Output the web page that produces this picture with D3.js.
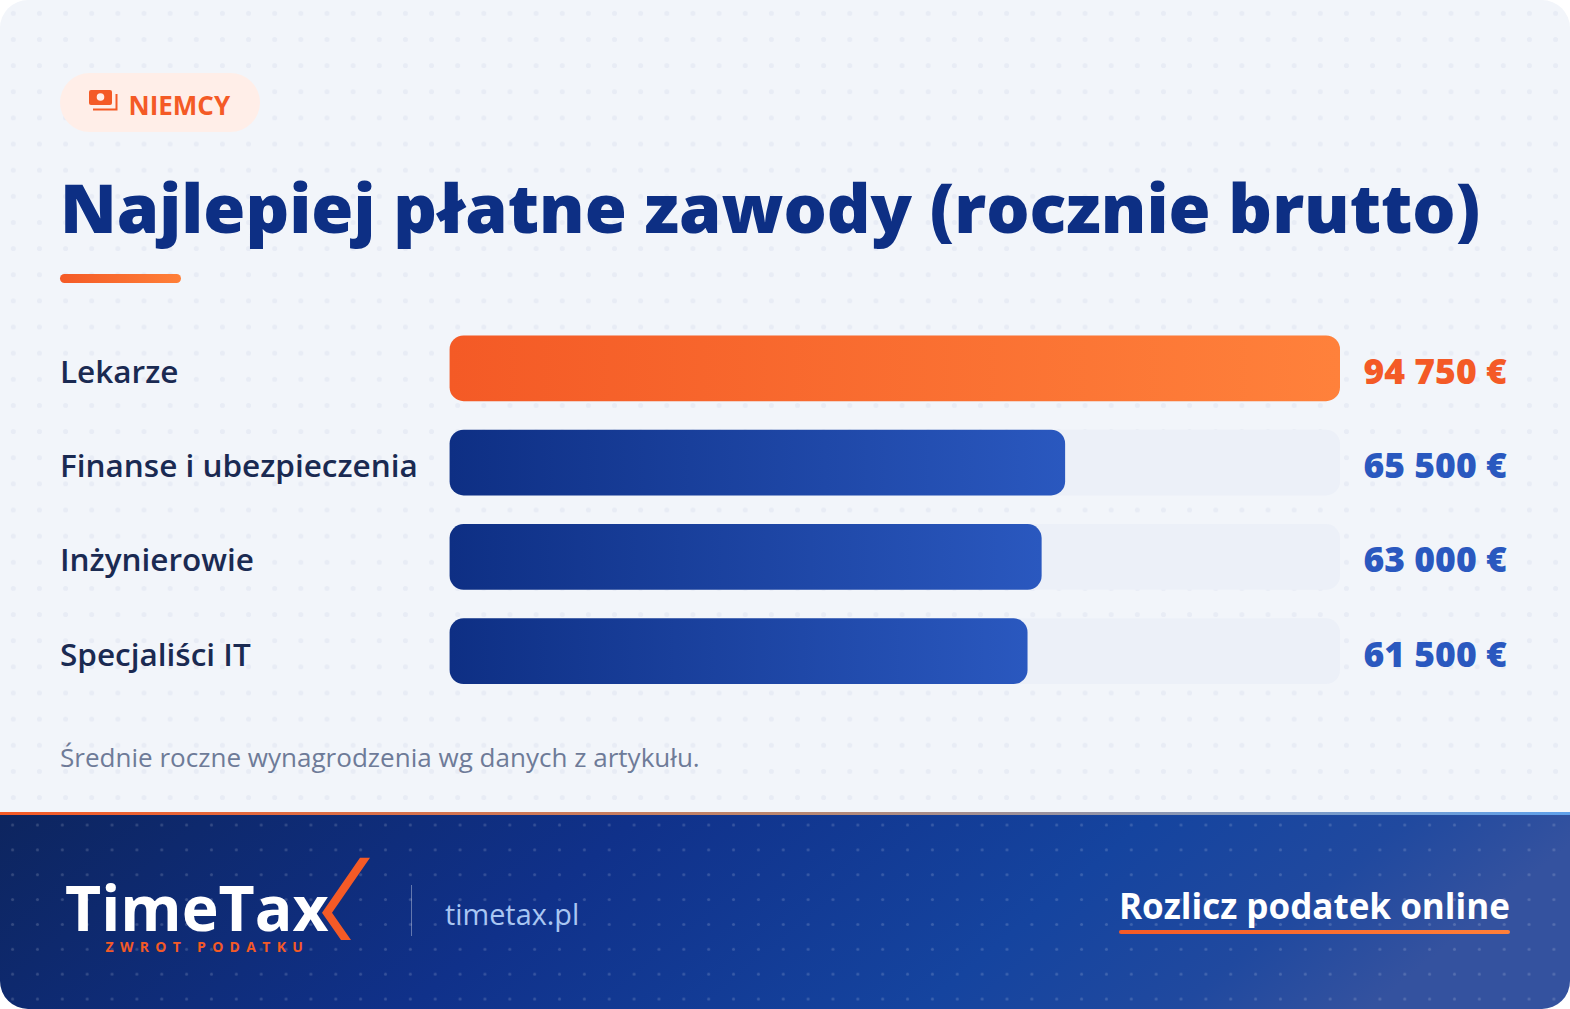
<!DOCTYPE html>
<html lang="pl">
<head>
<meta charset="utf-8">
<title>Najlepiej płatne zawody</title>
<script src="https://cdn.jsdelivr.net/npm/d3@7"></script>
<style>
  html, body { margin: 0; padding: 0; background: #fff; }
  svg { display: block; font-family: "Open Sans", sans-serif; }
</style>
</head>
<body>
<svg id="chart" width="1570" height="1009" viewBox="0 0 1570 1009"></svg>
<script>
const categories = ["Lekarze", "Finanse i ubezpieczenia", "Inżynierowie", "Specjaliści IT"];
const values = [94750, 65500, 63000, 61500];
const highlighted = ["Lekarze"];

const badgeText = "NIEMCY";
const titleText = "Najlepiej płatne zawody (rocznie brutto)";
const noteText = "Średnie roczne wynagrodzenia wg danych z artykułu.";
const siteText = "timetax.pl";
const ctaText = "Rozlicz podatek online";

const svg = d3.select("#chart");
const defs = svg.append("defs");

function linear(id, stops, x2 = "100%", y2 = "0%") {
  const g = defs.append("linearGradient").attr("id", id)
    .attr("x1", "0%").attr("y1", "0%").attr("x2", x2).attr("y2", y2);
  stops.forEach(s => g.append("stop").attr("offset", s[0]).attr("stop-color", s[1]));
}

function dots(id, step, x, y, r, fill) {
  const p = defs.append("pattern").attr("id", id)
    .attr("patternUnits", "userSpaceOnUse")
    .attr("x", x - step / 2).attr("y", y - step / 2)
    .attr("width", step).attr("height", step);
  p.append("circle").attr("cx", step / 2).attr("cy", step / 2).attr("r", r).attr("fill", fill);
}

linear("orangeBar", [[0, "#f45a26"], [1, "#ff813b"]]);
linear("blueBar", [[0, "#0e2f84"], [1, "#2a58bf"]]);
linear("accent", [[0, "#f45a26"], [1, "#ff7f38"]]);
linear("stripe", [[0, "#f45a26"], [0.5, "#b9866f"], [0.75, "#8a97b5"], [1, "#5fa0ea"]]);
linear("footerBg", [[0, "#0d255f"], [0.4, "#10318a"], [0.72, "#15449f"], [0.88, "#20499f"], [1, "#34529f"]], "100%", "15%");
dots("paperDots", 26.14, 13.3, 13.3, 2.5, "#e8ecf5");
dots("footerDots", 24.86, 12.6, 825, 1.5, "rgba(255,255,255,0.16)");

// card: rounded on all four corners, footer clipped to it
defs.append("clipPath").attr("id", "card").append("rect")
  .attr("width", 1570).attr("height", 1009).attr("rx", 28);

const card = svg.append("g").attr("clip-path", "url(#card)");
card.append("rect").attr("width", 1570).attr("height", 1009).attr("fill", "#f2f5fa");
card.append("rect").attr("width", 1570).attr("height", 812).attr("fill", "url(#paperDots)");

// badge
const badge = card.append("g");
badge.append("rect").attr("x", 60).attr("y", 73).attr("width", 200).attr("height", 59)
  .attr("rx", 29.5).attr("fill", "#ffeee8");
badge.append("rect").attr("x", 89).attr("y", 90).attr("width", 23).attr("height", 15)
  .attr("rx", 2).attr("fill", "#f45a26");
badge.append("circle").attr("cx", 100.5).attr("cy", 97).attr("r", 3.8).attr("fill", "#ffeee8");
badge.append("path").attr("d", "M93,109.5H116.5V94").attr("fill", "none")
  .attr("stroke", "#f45a26").attr("stroke-width", 2);
badge.append("text").attr("x", 128.5).attr("y", 114.5).attr("font-size", 26)
  .attr("font-weight", 700).attr("fill", "#f45a26").text(badgeText);

// title
card.append("text").attr("x", 60).attr("y", 232.5).attr("font-size", 68.1)
  .attr("font-weight", 800).attr("fill", "#0d2f84").text(titleText);
card.append("rect").attr("x", 60).attr("y", 274).attr("width", 121).attr("height", 9)
  .attr("rx", 4.5).attr("fill", "url(#accent)");

// bars
const x = d3.scaleLinear().domain([0, d3.max(values)]).range([449.6, 1340]);
const y = d3.scaleBand().domain(categories).range([335.5, 684]).paddingInner(0.303);
const fmt = d3.formatLocale({ decimal: ",", thousands: " ", grouping: [3], currency: ["", " €"] }).format("$,");
const rows = categories.map((c, i) => ({ category: c, value: values[i], hot: highlighted.includes(c) }));

const row = card.append("g").selectAll("g").data(rows).enter().append("g");

row.append("rect")
  .attr("x", x(0)).attr("y", d => y(d.category))
  .attr("width", x.range()[1] - x(0)).attr("height", y.bandwidth())
  .attr("rx", 14).attr("fill", "#ecf0f8");

row.append("rect")
  .attr("x", x(0)).attr("y", d => y(d.category))
  .attr("width", d => x(d.value) - x(0)).attr("height", y.bandwidth())
  .attr("rx", 14).attr("fill", d => d.hot ? "url(#orangeBar)" : "url(#blueBar)");

row.append("text")
  .attr("x", 60).attr("y", d => y(d.category) + y.bandwidth() / 2 + 14.5)
  .attr("font-size", 31.5).attr("font-weight", 600).attr("fill", "#1a2a52")
  .text(d => d.category);

row.append("text")
  .attr("x", 1363.5).attr("y", d => y(d.category) + y.bandwidth() / 2 + 15.5)
  .attr("font-size", 35.5).attr("font-weight", 800)
  .attr("fill", d => d.hot ? "#f45a26" : "#2a58bf")
  .text(d => fmt(d.value));

// note
card.append("text").attr("x", 60).attr("y", 767).attr("font-size", 26.05)
  .attr("fill", "#6e7b98").text(noteText);

// footer
card.append("rect").attr("y", 812).attr("width", 1570).attr("height", 3).attr("fill", "url(#stripe)");
card.append("rect").attr("y", 815).attr("width", 1570).attr("height", 194).attr("fill", "url(#footerBg)");
card.append("rect").attr("y", 815).attr("width", 1570).attr("height", 194).attr("fill", "url(#footerDots)");

const logo = card.append("g");
logo.append("text").attr("x", 65).attr("y", 930.5).attr("font-size", 62.5)
  .attr("font-weight", 700).attr("fill", "#fff").text("TimeTax");
logo.append("path").attr("d", "M360,857.7H370L332,912.7L351,940H341L322,912.7Z").attr("fill", "#f45a26");
logo.append("text").attr("x", 105.5).attr("y", 951.5).attr("font-size", 14)
  .attr("font-weight", 700).attr("letter-spacing", 6.3).attr("fill", "#f45a26").text("ZWROT PODATKU");

card.append("rect").attr("x", 411).attr("y", 885).attr("width", 1).attr("height", 51)
  .attr("fill", "rgba(255,255,255,0.35)");
card.append("text").attr("x", 445).attr("y", 925).attr("font-size", 28.8).attr("font-weight", 500)
  .attr("fill", "#a9c6f2").text(siteText);

card.append("text").attr("x", 1119).attr("y", 919.3).attr("font-size", 35)
  .attr("font-weight", 700).attr("fill", "#fff").text(ctaText);
card.append("rect").attr("x", 1119).attr("y", 930).attr("width", 391).attr("height", 4)
  .attr("rx", 2).attr("fill", "url(#accent)");
</script>
</body>
</html>
